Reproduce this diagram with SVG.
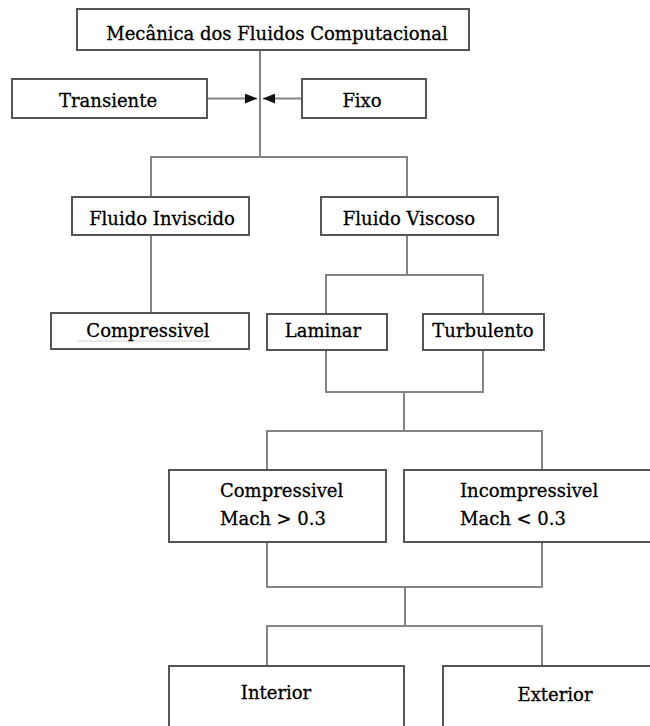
<svg xmlns="http://www.w3.org/2000/svg" width="650" height="726" viewBox="0 0 650 726">
<style>
.box{fill:#fff;stroke:#555;stroke-width:2}
.t{font-family:"DejaVu Serif","Liberation Serif",serif;font-size:18px;fill:#000;stroke:#000;stroke-width:0.3}
.m{text-anchor:middle}
.c{fill:none;stroke:#858585;stroke-width:2}
</style>
<defs>
<marker id="ah" viewBox="0 0 12 10" refX="12" refY="5" markerWidth="12" markerHeight="10" markerUnits="userSpaceOnUse" orient="auto">
<path d="M0,0 L12,5 L0,10 Z" fill="#111"/>
</marker>
</defs>
<rect width="650" height="726" fill="#fff"/>
<g id="connectors">
<path class="c" d="M260,50 V157"/>
<path class="c" d="M207,98.5 H257" marker-end="url(#ah)"/>
<path class="c" d="M302,98.5 H263" marker-end="url(#ah)"/>
<path class="c" d="M151,197 V157 H407 V197"/>
<path class="c" d="M151,235 V313"/>
<path class="c" d="M407,235 V275"/>
<path class="c" d="M326,314 V275 H483 V314"/>
<path class="c" d="M326,350 V392 H483 V350"/>
<path class="c" d="M404,392 V431"/>
<path class="c" d="M267,470 V431 H542 V470"/>
<path class="c" d="M267,542 V587 H542 V542"/>
<path class="c" d="M405,587 V626"/>
<path class="c" d="M267,666 V626 H542 V666"/>
</g>
<g id="n-cfd"><rect class="box" x="77" y="9" width="392" height="41"/><text class="t m" x="277" y="40">Mecânica dos Fluidos Computacional</text></g>
<g id="n-transiente"><rect class="box" x="12" y="79" width="195" height="39"/><text class="t m" x="108" y="107">Transiente</text></g>
<g id="n-fixo"><rect class="box" x="302" y="79" width="124" height="39"/><text class="t m" x="362" y="107">Fixo</text></g>
<g id="n-inviscido"><rect class="box" x="72" y="197" width="177" height="38"/><text class="t m" x="162" y="225">Fluido Inviscido</text></g>
<g id="n-viscoso"><rect class="box" x="321" y="197" width="177" height="38"/><text class="t m" x="409" y="225">Fluido Viscoso</text></g>
<g id="n-compressivel1"><rect class="box" x="51" y="313" width="198" height="36"/><line x1="77" y1="341" x2="212" y2="341" stroke="#d4d4d4" stroke-width="1"/><text class="t m" x="148" y="337">Compressivel</text></g>
<g id="n-laminar"><rect class="box" x="267" y="314" width="120" height="36"/><text class="t m" x="323" y="337">Laminar</text></g>
<g id="n-turbulento"><rect class="box" x="423" y="314" width="121" height="36"/><text class="t m" x="483" y="337">Turbulento</text></g>
<g id="n-compressivel2"><rect class="box" x="169" y="470" width="217" height="72"/><text class="t" x="220" y="497">Compressivel</text><text class="t" x="220" y="525">Mach &gt; 0.3</text></g>
<g id="n-incompressivel"><rect class="box" x="404" y="470" width="270" height="72"/><text class="t" x="460" y="497">Incompressivel</text><text class="t" x="460" y="525">Mach &lt; 0.3</text></g>
<g id="n-interior"><rect class="box" x="169" y="666" width="235" height="80"/><text class="t m" x="276" y="699">Interior</text></g>
<g id="n-exterior"><rect class="box" x="443" y="666" width="240" height="80"/><text class="t m" x="555" y="701">Exterior</text></g>
</svg>
